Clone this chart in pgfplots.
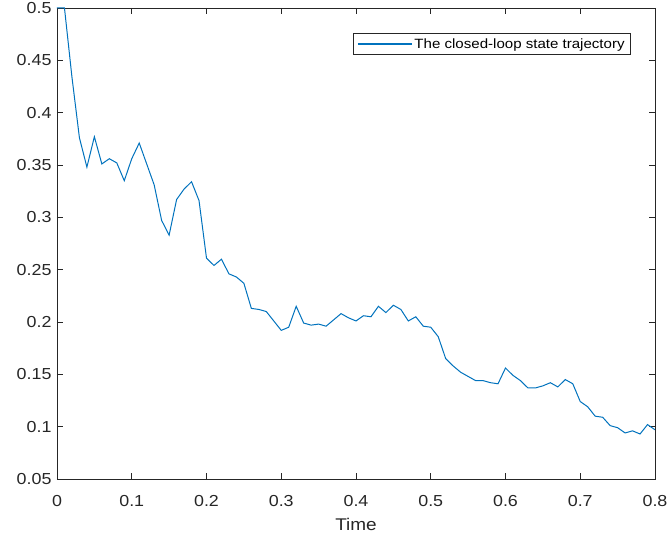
\documentclass[border=0pt]{standalone}
\usepackage{fontspec}
\setmainfont{Liberation Sans}[FakeStretch=1.12]
\usepackage{pgfplots}
\pgfplotsset{compat=1.18}
\definecolor{linecol}{rgb}{0,0.447,0.741}
\definecolor{axcol}{rgb}{0.15,0.15,0.15}
\begin{document}
\begin{tikzpicture}
\begin{axis}[
  scale only axis,
  width=598bp, height=471bp,
  at={(0,0)}, anchor=south west,
  xmin=0, xmax=0.8, ymin=0.05, ymax=0.5,
  xtick={0,0.1,...,0.8},
  ytick={0.05,0.1,...,0.5},
  scaled x ticks=false, scaled y ticks=false,
  xticklabel style={/pgf/number format/fixed, /pgf/number format/precision=1},
  yticklabel style={/pgf/number format/fixed, /pgf/number format/precision=2},
  /pgf/number format/assume math mode=true,
  tick align=inside,
  major tick length=6bp,
  axis line style={axcol, line width=0.8bp},
  tick style={axcol, line width=0.8bp},
  ticklabel style={font=\fontsize{16}{19}\selectfont, text=axcol},
  xticklabel style={yshift=-13bp},
  yticklabel style={xshift=-2bp},
  xlabel={Time},
  xlabel style={font=\fontsize{17}{20}\selectfont, text=axcol, yshift=-5bp},
  legend style={at={(1,1)}, anchor=north east, xshift=-24bp, yshift=-25bp,
    fill=white, font=\fontsize{13.5}{15}\selectfont,
    inner xsep=4bp, inner ysep=3bp,
    nodes={inner sep=2bp}},
  every axis legend/.append style={draw=axcol, line width=0.7bp},
  legend image code/.code={%
    \path[draw=linecol, color=linecol, line width=1.2bp] (0bp,0bp) -- (54bp,0bp);},
  legend cell align=left,
]
\addplot[linecol, line width=1bp] coordinates {
(0.00,0.500) (0.01,0.500) (0.02,0.434) (0.03,0.376) (0.04,0.348)
(0.05,0.377) (0.06,0.351) (0.07,0.356) (0.08,0.352) (0.09,0.335)
(0.10,0.356) (0.11,0.371) (0.12,0.351) (0.13,0.331) (0.14,0.297)
(0.15,0.283) (0.16,0.317) (0.17,0.327) (0.18,0.334) (0.19,0.316)
(0.20,0.261) (0.21,0.254) (0.22,0.260) (0.23,0.246) (0.24,0.243)
(0.25,0.237) (0.26,0.213) (0.27,0.212) (0.28,0.210) (0.29,0.201)
(0.30,0.192) (0.31,0.195) (0.32,0.215) (0.33,0.199) (0.34,0.197)
(0.35,0.198) (0.36,0.196) (0.37,0.202) (0.38,0.208) (0.39,0.204)
(0.40,0.201) (0.41,0.206) (0.42,0.205) (0.43,0.215) (0.44,0.209)
(0.45,0.216) (0.46,0.212) (0.47,0.201) (0.48,0.205) (0.49,0.196)
(0.50,0.195) (0.51,0.186) (0.52,0.165) (0.53,0.158) (0.54,0.152)
(0.55,0.148) (0.56,0.144) (0.57,0.144) (0.58,0.142) (0.59,0.141)
(0.60,0.156) (0.61,0.149) (0.62,0.144) (0.63,0.137) (0.64,0.137)
(0.65,0.139) (0.66,0.142) (0.67,0.138) (0.68,0.145) (0.69,0.141)
(0.70,0.124) (0.71,0.119) (0.72,0.110) (0.73,0.109) (0.74,0.101)
(0.75,0.099) (0.76,0.094) (0.77,0.096) (0.78,0.093) (0.79,0.102)
(0.80,0.097)
};
\addlegendentry{The closed-loop state trajectory}
\end{axis}
\pgfresetboundingbox
\path[use as bounding box] (-57bp,-65bp) rectangle (612bp,479bp);
\end{tikzpicture}
\end{document}
